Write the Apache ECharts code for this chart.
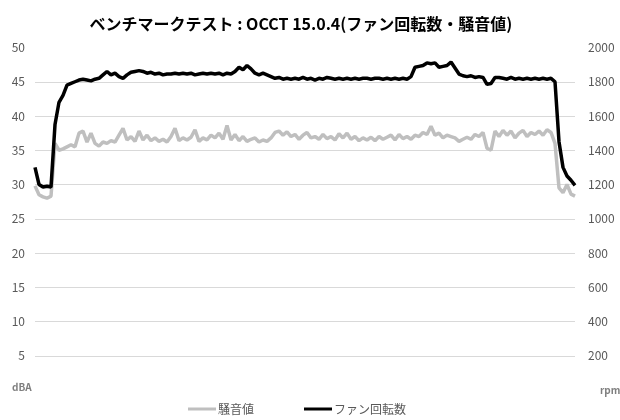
<!DOCTYPE html>
<html>
<head>
<meta charset="utf-8">
<script src="https://cdn.jsdelivr.net/npm/echarts@6/dist/echarts.min.js"></script>
<style>html,body{margin:0;padding:0;background:#fff;}#c{width:620px;height:420px;}</style>
</head>
<body>
<div id="c"></div>
<script>
var titleText = 'ベンチマークテスト : OCCT 15.0.4(ファン回転数・騒音値)';
var seriesNames = ['騒音値', 'ファン回転数'];
var leftTicks = [0, 5, 10, 15, 20, 25, 30, 35, 40, 45, 50];
var rightTicks = [0, 200, 400, 600, 800, 1000, 1200, 1400, 1600, 1800, 2000];

// noise (dBA)
var noise = [
29.8,28.5,28.2,28.0,28.3,36.0,35.0,35.2,35.5,35.8,
35.5,37.5,37.8,36.2,37.5,36.0,35.6,36.2,36.0,36.4,
36.2,37.2,38.2,36.5,37.0,36.3,37.8,36.5,37.2,36.4,
36.8,36.3,36.6,36.2,37.0,38.2,36.4,36.8,36.5,36.9,
38.0,36.3,36.8,36.5,37.2,36.8,37.5,36.6,38.6,36.5,
37.3,36.4,37.0,36.3,36.6,36.8,36.2,36.5,36.3,36.8,
37.6,37.8,37.2,37.7,37.0,37.3,36.6,37.2,37.6,36.8,
37.0,36.6,37.3,36.7,37.0,36.5,37.4,36.8,37.5,36.6,
37.0,36.4,36.8,36.5,36.9,36.4,37.0,36.6,36.9,37.2,
36.5,37.3,36.7,37.0,36.6,37.2,37.0,37.6,37.3,38.5,
37.2,37.5,36.8,37.2,37.0,36.8,36.3,36.6,36.9,36.6,
37.3,37.0,37.6,35.3,35.0,37.8,37.0,37.9,37.2,37.8,
36.8,37.5,37.9,37.0,37.6,37.3,37.8,37.2,38.0,37.6,
36.0,29.5,28.8,30.0,28.6,28.3
];
// fan speed (rpm)
var fan = [
1300,1200,1185,1190,1185,1550,1680,1720,1780,1790,
1800,1810,1815,1810,1805,1815,1820,1840,1860,1840,
1850,1830,1820,1840,1855,1860,1865,1860,1850,1855,
1845,1850,1840,1845,1845,1850,1845,1850,1845,1850,
1840,1845,1850,1845,1850,1845,1850,1840,1850,1845,
1860,1885,1870,1895,1875,1850,1840,1850,1840,1830,
1820,1825,1815,1820,1815,1820,1815,1825,1815,1820,
1810,1820,1815,1825,1820,1815,1820,1815,1820,1815,
1820,1815,1820,1820,1815,1820,1820,1815,1820,1815,
1820,1815,1820,1815,1830,1885,1890,1895,1910,1905,
1910,1885,1890,1895,1915,1880,1845,1835,1830,1835,
1825,1830,1825,1785,1790,1825,1825,1820,1815,1825,
1815,1820,1815,1820,1815,1820,1815,1820,1815,1820,
1800,1450,1300,1250,1225,1195
];
var categories = fan.map(function (v, i) { return String(i + 1); });

var chart = echarts.init(document.getElementById('c'), null, {renderer: 'canvas'});
var labelColor = '#595959';
var font = '"Noto Sans CJK JP", "Noto Sans", sans-serif';
chart.setOption({
  animation: false,
  backgroundColor: '#fff',
  textStyle: {fontFamily: font},
  title: {
    text: titleText,
    left: 296, top: 11, textAlign: 'center',
    textStyle: {fontSize: 16, fontWeight: 'bold', color: '#000', fontFamily: font}
  },
  grid: {left: 35, right: 45, top: 47.5, bottom: 30, containLabel: false},
  legend: {
    data: seriesNames,
    left: 183, top: 398,
    icon: 'rect', itemWidth: 28, itemHeight: 3, itemGap: 50,
    textStyle: {fontSize: 12, color: labelColor, fontFamily: font, padding: [0, 0, 0, -3]}
  },
  xAxis: {
    type: 'category', data: categories, boundaryGap: false,
    axisLine: {show: false}, axisTick: {show: false}, axisLabel: {show: false}, splitLine: {show: false}
  },
  yAxis: [{
    type: 'value', min: leftTicks[0], max: leftTicks[leftTicks.length - 1], interval: 5,
    axisLine: {show: false}, axisTick: {show: false},
    axisLabel: {color: labelColor, fontSize: 12, margin: 10,
      formatter: function (v) { return v === 0 ? '' : String(v); }},
    splitLine: {show: true, showMinLine: false, showMaxLine: false, lineStyle: {color: '#d9d9d9', width: 1}}
  }, {
    type: 'value', min: rightTicks[0], max: rightTicks[rightTicks.length - 1], interval: 200,
    axisLine: {show: false}, axisTick: {show: false},
    axisLabel: {color: labelColor, fontSize: 12, margin: 13,
      formatter: function (v) { return v === 0 ? '' : String(v); }},
    splitLine: {show: false}
  }],
  graphic: [
    {type: 'text', left: 12, top: 382, style: {text: 'dBA', fontSize: 10, fontWeight: 'bold', fill: '#7f7f7f', fontFamily: font}},
    {type: 'text', left: 600, top: 385, style: {text: 'rpm', fontSize: 10, fontWeight: 'bold', fill: '#7f7f7f', fontFamily: font}}
  ],
  series: [{
    name: seriesNames[0], type: 'line', yAxisIndex: 0, data: noise,
    showSymbol: false, symbol: 'none',
    lineStyle: {color: '#bfbfbf', width: 3.5}, itemStyle: {color: '#bfbfbf'}, z: 2
  }, {
    name: seriesNames[1], type: 'line', yAxisIndex: 1, data: fan,
    showSymbol: false, symbol: 'none',
    lineStyle: {color: '#000000', width: 3.5}, itemStyle: {color: '#000000'}, z: 3
  }]
});
</script>
</body>
</html>
